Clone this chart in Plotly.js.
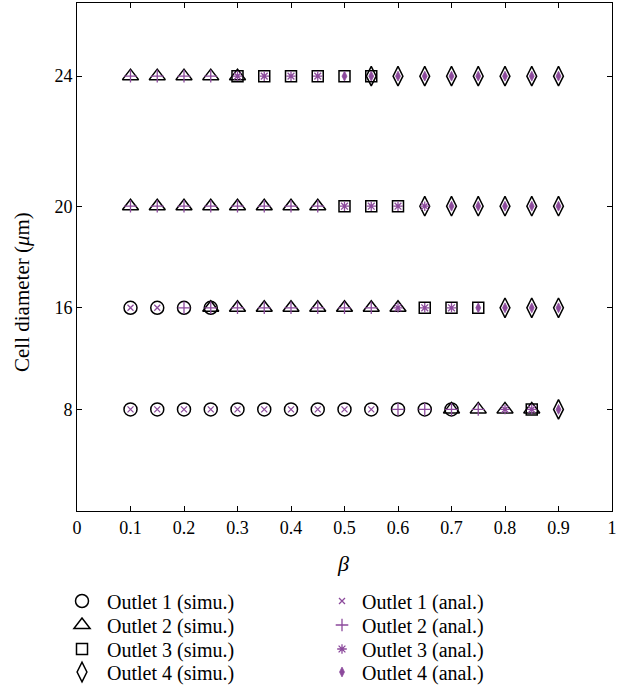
<!DOCTYPE html>
<html>
<head>
<meta charset="utf-8">
<script src="https://cdn.plot.ly/plotly-3.0.1.min.js"></script>
<style>html,body{margin:0;padding:0;background:#fff;}#chart{width:619px;height:699px;}</style>
</head>
<body>
<div id="chart"></div>
<script>
// beta values (x)
const beta = [0.1,0.15,0.2,0.25,0.3,0.35,0.4,0.45,0.5,0.55,0.6,0.65,0.7,0.75,0.8,0.85,0.9];
// cell diameters (y tick labels)
const diameters = [8,16,20,24];
// outlet(s) reached per beta; a string of digits lists every outlet at that point
const simu8  = ['1','1','1','1','1','1','1','1','1','1','1','1','12','2','2','23','4'];
const anal8  = ['1','1','1','1','1','1','1','1','1','1','2','2','2','2','3','3','4'];
const simu16 = ['1','1','1','12','2','2','2','2','2','2','2','3','3','3','4','4','4'];
const anal16 = ['1','1','2','2','2','2','2','2','2','2','3','3','3','4','4','4','4'];
const simu20 = ['2','2','2','2','2','2','2','2','3','3','3','4','4','4','4','4','4'];
const anal20 = ['2','2','2','2','2','2','2','2','3','3','3','3','4','4','4','4','4'];
const simu24 = ['2','2','2','2','23','3','3','3','3','34','4','4','4','4','4','4','4'];
const anal24 = ['2','2','2','2','3','3','3','3','4','4','4','4','4','4','4','4','4'];

const simuRows = {8: simu8, 16: simu16, 20: simu20, 24: simu24};
const analRows = {8: anal8, 16: anal16, 20: anal20, 24: anal24};
// axis slot for each diameter (the reference spaces the rows unevenly)
const slot = {8: 1, 16: 2, 20: 3, 24: 4.28};

const purple = '#8c4a9c';
const simuSym = ['circle-open','triangle-up-open','square-open','diamond-tall-open'];
const simuSize = [13, 14, 11, 14];
const analSym = ['x-thin-open','cross-thin-open','asterisk-open','diamond-tall'];
const analSize = [6, 9, 8, 7];

function collect(rows, k) {
  const xs = [], ys = [];
  diameters.forEach(d => {
    rows[d].forEach((s, i) => {
      if (s.indexOf(String(k)) >= 0) { xs.push(beta[i]); ys.push(slot[d]); }
    });
  });
  return {xs, ys};
}

const fam = 'Liberation Serif, Times New Roman, serif';
const rowPx = [601, 625, 649, 672];   // legend row centres (px)
const plotTop = 3, plotBottom = 511, plotLeft = 77, plotW = 535;
const py = p => (plotBottom - p) / (plotBottom - plotTop);
const px = p => (p - plotLeft) / plotW;

const traces = [];
const legends = {};
for (let k = 1; k <= 4; k++) {
  const c = collect(simuRows, k);
  const id = k === 1 ? 'legend' : 'legend' + k;
  traces.push({
    x: c.xs, y: c.ys, type: 'scatter', mode: 'markers',
    name: 'Outlet ' + k + ' (simu.)', legend: id,
    marker: {symbol: simuSym[k-1], size: simuSize[k-1], color: '#000', line: {color: '#000', width: 1.5}}
  });
  legends[id] = {x: px(57), y: py(rowPx[k-1]), xanchor: 'left', yanchor: 'middle',
    font: {family: fam, size: 20, color: '#000'}, bgcolor: 'rgba(0,0,0,0)', itemwidth: 40};
}
for (let k = 1; k <= 4; k++) {
  const c = collect(analRows, k);
  const id = 'legend' + (k + 4);
  traces.push({
    x: c.xs, y: c.ys, type: 'scatter', mode: 'markers',
    name: 'Outlet ' + k + ' (anal.)', legend: id,
    marker: {symbol: analSym[k-1], size: analSize[k-1], color: purple,
             line: {color: purple, width: k === 4 ? 0.8 : 1.3}}
  });
  legends[id] = {x: px(322), y: py(rowPx[k-1]), xanchor: 'left', yanchor: 'middle',
    font: {family: fam, size: 20, color: '#000'}, bgcolor: 'rgba(0,0,0,0)', itemwidth: 30};
}

const layout = Object.assign({
  width: 619, height: 699,
  margin: {l: 77, r: 7, t: 3, b: 188},
  paper_bgcolor: '#fff', plot_bgcolor: '#fff',
  font: {family: fam, size: 18, color: '#000'},
  showlegend: true,
  xaxis: {
    range: [0, 1], tickvals: [0,0.1,0.2,0.3,0.4,0.5,0.6,0.7,0.8,0.9,1],
    ticktext: ['0','0.1','0.2','0.3','0.4','0.5','0.6','0.7','0.8','0.9','1'],
    ticks: 'inside', ticklen: 5, tickcolor: '#000', tickwidth: 1,
    showline: true, linecolor: '#000', linewidth: 1, mirror: 'ticks',
    showgrid: false, zeroline: false,
    tickfont: {family: fam, size: 18, color: '#000'}
  },
  yaxis: {
    range: [0, 5],
    tickvals: diameters.map(d => slot[d]), ticktext: diameters.map(String),
    ticks: 'inside', ticklen: 5, tickcolor: '#000', tickwidth: 1,
    showline: true, linecolor: '#000', linewidth: 1, mirror: 'ticks',
    showgrid: false, zeroline: false,
    tickfont: {family: fam, size: 18, color: '#000'}
  },
  annotations: [
    {text: '<i>β</i>', xref: 'paper', yref: 'paper', x: px(343), y: py(563),
     xanchor: 'center', yanchor: 'middle', showarrow: false, font: {family: fam, size: 22, color: '#000'}},
    {text: 'Cell diameter (<i>μ</i>m)', xref: 'paper', yref: 'paper', x: px(22), y: py(292),
     xanchor: 'center', yanchor: 'middle', textangle: -90, showarrow: false, font: {family: fam, size: 21, color: '#000'}}
  ]
}, legends);

Plotly.newPlot('chart', traces, layout, {displayModeBar: false, staticPlot: true});
</script>
</body>
</html>
